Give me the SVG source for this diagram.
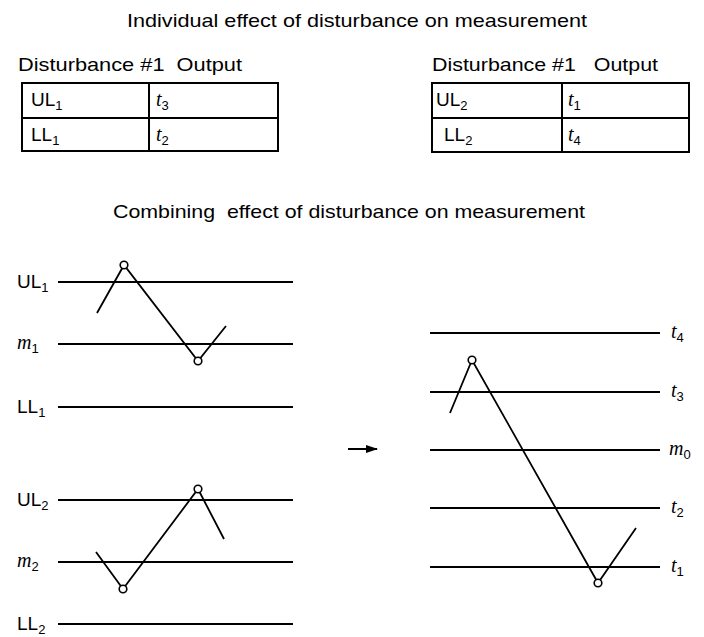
<svg xmlns="http://www.w3.org/2000/svg" width="704" height="637" viewBox="0 0 704 637">
<style>
.t{font-family:"Liberation Sans",Arial,sans-serif;font-size:19px;fill:#000;white-space:pre}
.it{font-family:"Liberation Serif","Times New Roman",serif;font-style:italic;font-size:20px;fill:#000}
.sub{font-size:13px;font-style:normal;font-family:"Liberation Sans",Arial,sans-serif}
.ln{stroke:#000;stroke-width:2;fill:none}
.zz{stroke:#000;stroke-width:1.8;fill:none}
.pt{fill:#fff;stroke:#000;stroke-width:1.6}
</style>
<defs>
<marker id="ah" markerWidth="12" markerHeight="8" refX="11" refY="4" orient="auto" markerUnits="userSpaceOnUse">
<path d="M0,0 L12,4 L0,8 Z" fill="#000"/>
</marker>
</defs>
<rect width="704" height="637" fill="#fff"/>

<g id="title1"><text class="t" x="127" y="27" textLength="460" lengthAdjust="spacingAndGlyphs">Individual effect of disturbance on measurement</text></g>

<g id="table1">
<text class="t" x="18" y="71" xml:space="preserve" textLength="224" lengthAdjust="spacingAndGlyphs">Disturbance #1  Output</text>
<rect class="ln" x="22" y="83" width="256" height="68"/>
<line class="ln" x1="22" y1="118" x2="278" y2="118"/>
<line class="ln" x1="149" y1="83" x2="149" y2="151"/>
<text class="t" x="31" y="106">UL<tspan class="sub" dy="4">1</tspan></text>
<text class="it" x="156" y="106">t<tspan class="sub" dy="4">3</tspan></text>
<text class="t" x="31" y="141">LL<tspan class="sub" dy="4">1</tspan></text>
<text class="it" x="156" y="141">t<tspan class="sub" dy="4">2</tspan></text>
</g>

<g id="table2">
<text class="t" x="432" y="71" xml:space="preserve" textLength="226" lengthAdjust="spacingAndGlyphs">Disturbance #1   Output</text>
<rect class="ln" x="432" y="83" width="257" height="69"/>
<line class="ln" x1="432" y1="118" x2="689" y2="118"/>
<line class="ln" x1="562" y1="83" x2="562" y2="152"/>
<text class="t" x="436" y="106">UL<tspan class="sub" dy="4">2</tspan></text>
<text class="it" x="568" y="106">t<tspan class="sub" dy="4">1</tspan></text>
<text class="t" x="444" y="141">LL<tspan class="sub" dy="4">2</tspan></text>
<text class="it" x="568" y="141">t<tspan class="sub" dy="4">4</tspan></text>
</g>

<g id="title2"><text class="t" x="113" y="218" xml:space="preserve" textLength="472" lengthAdjust="spacingAndGlyphs">Combining  effect of disturbance on measurement</text></g>

<g id="chart1">
<line class="ln" x1="58" y1="282" x2="293" y2="282"/>
<line class="ln" x1="58" y1="344" x2="293" y2="344"/>
<line class="ln" x1="58" y1="407" x2="293" y2="407"/>
<text class="t" x="17" y="288">UL<tspan class="sub" dy="4">1</tspan></text>
<text class="it" x="17" y="349">m<tspan class="sub" dy="4">1</tspan></text>
<text class="t" x="17" y="413">LL<tspan class="sub" dy="4">1</tspan></text>
<polyline class="zz" points="97,313 124,265 198,361 226,326"/>
<circle class="pt" cx="124" cy="265" r="3.8"/>
<circle class="pt" cx="198" cy="361" r="3.8"/>
</g>

<g id="chart2">
<line class="ln" x1="58" y1="500" x2="293" y2="500"/>
<line class="ln" x1="58" y1="562" x2="293" y2="562"/>
<line class="ln" x1="58" y1="624" x2="293" y2="624"/>
<text class="t" x="17" y="506">UL<tspan class="sub" dy="4">2</tspan></text>
<text class="it" x="17" y="567">m<tspan class="sub" dy="4">2</tspan></text>
<text class="t" x="17" y="630">LL<tspan class="sub" dy="4">2</tspan></text>
<polyline class="zz" points="96,552 123,589 198,489 224,539"/>
<circle class="pt" cx="123" cy="589" r="3.8"/>
<circle class="pt" cx="198" cy="489" r="3.8"/>
</g>

<g id="chart3">
<line class="ln" x1="430" y1="333" x2="660" y2="333"/>
<line class="ln" x1="430" y1="392" x2="660" y2="392"/>
<line class="ln" x1="430" y1="450" x2="660" y2="450"/>
<line class="ln" x1="430" y1="508" x2="660" y2="508"/>
<line class="ln" x1="430" y1="567" x2="660" y2="567"/>
<text class="it" x="671" y="338">t<tspan class="sub" dy="4">4</tspan></text>
<text class="it" x="671" y="397">t<tspan class="sub" dy="4">3</tspan></text>
<text class="it" x="669" y="455">m<tspan class="sub" dy="4">0</tspan></text>
<text class="it" x="671" y="513">t<tspan class="sub" dy="4">2</tspan></text>
<text class="it" x="671" y="572">t<tspan class="sub" dy="4">1</tspan></text>
<polyline class="zz" points="450,413 472,360 598,583 636,528"/>
<circle class="pt" cx="472" cy="360" r="3.8"/>
<circle class="pt" cx="598" cy="583" r="3.8"/>
</g>

<g id="connectors">
<line class="ln" x1="348" y1="449" x2="377" y2="449" stroke-width="1.5" marker-end="url(#ah)"/>
</g>
</svg>
